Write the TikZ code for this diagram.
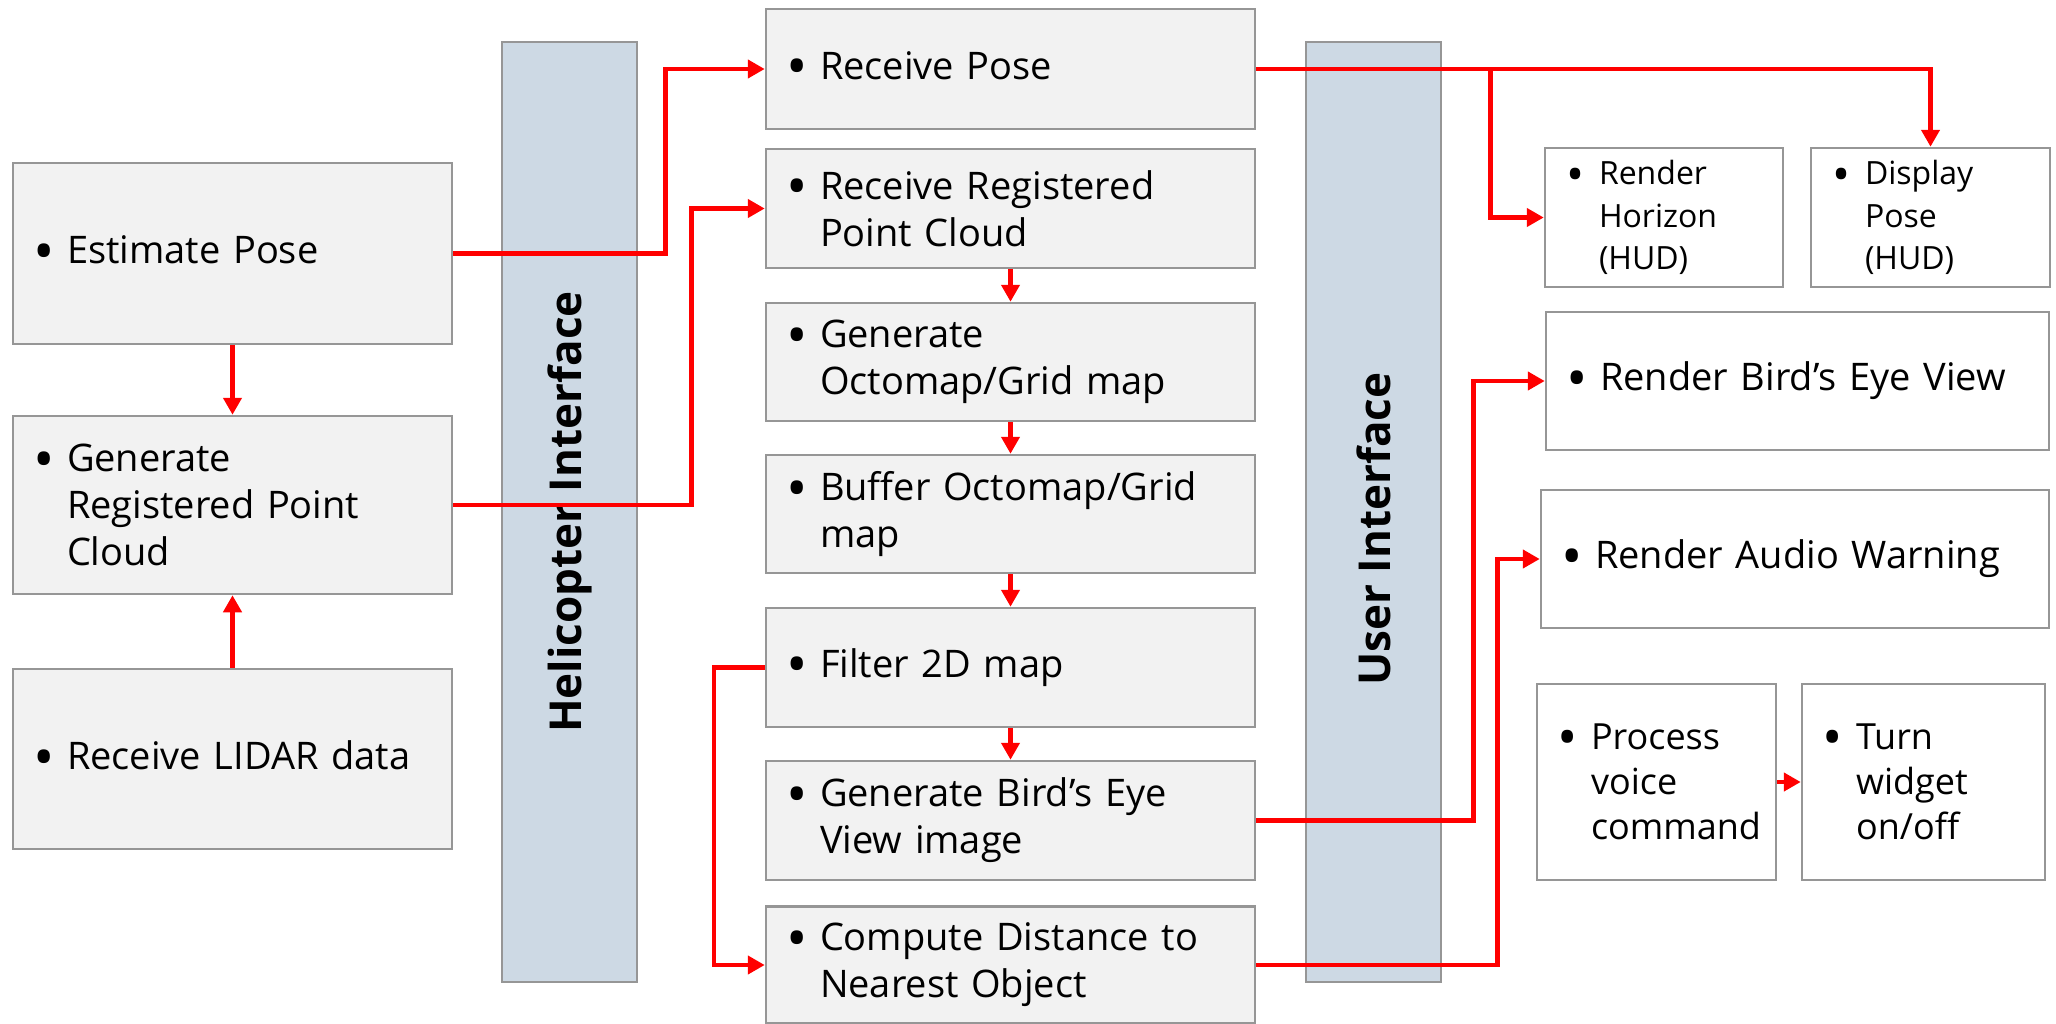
\documentclass[tikz,border=0pt]{standalone}
\usepackage{fontspec}
\setmainfont{Open Sans}
\newfontfamily\lblfont{Open Sans}
\usetikzlibrary{arrows.meta}
\definecolor{boxfill}{HTML}{F2F2F2}
\definecolor{boxline}{HTML}{969696}
\definecolor{barfill}{HTML}{CDD9E4}
\definecolor{conred}{HTML}{FF0000}
\newcommand{\bigbul}{\raisebox{-0.2em}{\scalebox{1.5}{\textbullet}}}
\newcommand{\bitem}[1]{\leftskip=54pt\relax\noindent\llap{\makebox[46pt]{\bigbul}}#1\par}
\tikzset{
  box/.style={draw=boxline, fill=boxfill, line width=2.5pt, inner xsep=0pt, inner ysep=0pt,
    align=left, font=\fontsize{38}{47}\selectfont},
  wbox/.style={box, fill=white},
  bar/.style={draw=boxline, fill=barfill, line width=2.5pt, inner sep=0pt,
    font=\lblfont\bfseries\fontsize{44}{50}\selectfont},
  conn/.style={draw=conred, line width=4.5pt, -{Triangle[length=17pt,width=18pt]}}
}
\begin{document}
\begin{tikzpicture}[x=1pt,y=-1pt]
\useasboundingbox (0,0) rectangle (2056,1023);
% interface bars
\node[bar, rotate=90, minimum width=940pt, minimum height=135pt] (heli) at (569.5,512) {Helicopter Interface};
\node[bar, rotate=90, minimum width=940pt, minimum height=135pt] (ui) at (1373.5,512) {\raisebox{0pt}{\hspace*{-34pt}User Interface}};
% left column
\node[box, text width=439pt, minimum height=181pt] (est) at (232.5,253.5) {\bitem{Estimate Pose}};
\node[box, text width=439pt, minimum height=178pt] (gen) at (232.5,505) {\bitem{Generate\\Registered Point\\Cloud}};
\node[box, text width=439pt, minimum height=180pt] (lidar) at (232.5,759) {\bitem{Receive LIDAR data}};
% middle column
\node[box, text width=489pt, minimum height=120pt] (rpose) at (1010.5,69) {\bitem{Receive Pose}};
\node[box, text width=489pt, minimum height=119pt] (rrpc) at (1010.5,208.5) {\bitem{Receive Registered\\Point Cloud}};
\node[box, text width=489pt, minimum height=118pt] (octo) at (1010.5,362) {\bitem{Generate\\Octomap/Grid map}};
\node[box, text width=489pt, minimum height=118pt] (buf) at (1010.5,514) {\bitem{Buffer Octomap/Grid\\map}};
\node[box, text width=489pt, minimum height=119pt] (filt) at (1010.5,667.5) {\bitem{Filter 2D map}};
\node[box, text width=489pt, minimum height=119pt] (bev) at (1010.5,820.5) {\bitem{Generate Bird’s Eye\\View image}};
\node[box, text width=489pt, minimum height=117pt] (cmp) at (1010.5,965) {\bitem{Compute Distance to\\Nearest Object}};
% right column
\node[wbox, text width=238pt, minimum height=139pt, font=\fontsize{32}{42.5}\selectfont] (rhor) at (1664,217.5) {\bitem{Render\\Horizon\\(HUD)}};
\node[wbox, text width=239pt, minimum height=139pt, font=\fontsize{32}{42.5}\selectfont] (dpose) at (1930.5,217.5) {\bitem{Display\\Pose\\(HUD)}};
\node[wbox, text width=503pt, minimum height=138pt] (rbev) at (1797.5,381) {\bitem{Render Bird’s Eye View}};
\node[wbox, text width=508pt, minimum height=138pt] (raud) at (1795,559) {\bitem{Render Audio Warning}};
\node[wbox, text width=239pt, minimum height=196pt, font=\fontsize{36}{45}\selectfont] (proc) at (1656.5,782) {\bitem{Process\\voice\\command}};
\node[wbox, text width=243pt, minimum height=196pt, font=\fontsize{36}{45}\selectfont] (turn) at (1923.5,782) {\bitem{Turn\\widget\\on/off}};
% connectors
\draw[conn] (est.south) -- (gen.north);
\draw[conn] (lidar.north) -- (gen.south);
\draw[conn] (est.east) -- ++(212,0) |- (rpose.west);
\draw[conn] (gen.east) -- ++(238,0) |- (rrpc.west);
\draw[conn] (rrpc.south) -- (octo.north);
\draw[conn] (octo.south) -- (buf.north);
\draw[conn] (buf.south) -- (filt.north);
\draw[conn] (filt.south) -- (bev.north);
\draw[conn] (filt.west) -- ++(-51,0) |- (cmp.west);
\draw[conn] (rpose.east) -| (dpose.north);
\draw[conn] (rpose.east) -- ++(234,0) |- (rhor.west);
\draw[conn] (bev.east) -- ++(217,0) |- (rbev.west);
\draw[conn] (cmp.east) -- ++(241,0) |- (raud.west);
\draw[conn] (proc.east) -- (turn.west);
\end{tikzpicture}
\end{document}
